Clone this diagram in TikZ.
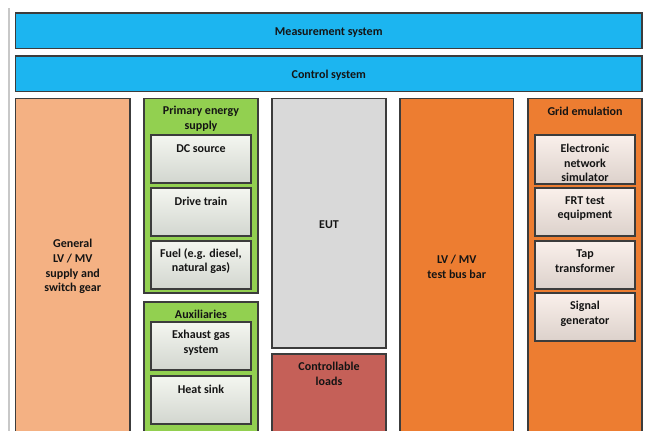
\documentclass[tikz,border=0pt]{standalone}
\usepackage{fontspec}
\setmainfont{Carlito}

\tikzset{every picture/.style={line width=0.75pt}}

\begin{document}
\begin{tikzpicture}[x=0.75pt,y=0.75pt,yscale=-1,xscale=1]
\useasboundingbox (0,0) rectangle (646,430);
\clip (0,0) rectangle (646,430);
\tikzset{
  box/.style={draw={rgb, 255:red, 60; green, 60; blue, 60 }, line width=1.2},
  inbox/.style={draw={rgb, 255:red, 60; green, 60; blue, 60 }, line width=1.1, top color={rgb, 255:red, 244; green, 246; blue, 240 }, bottom color={rgb, 255:red, 210; green, 214; blue, 207 }},
  inboxo/.style={draw={rgb, 255:red, 60; green, 60; blue, 60 }, line width=1.1, top color={rgb, 255:red, 250; green, 240; blue, 235 }, bottom color={rgb, 255:red, 220; green, 209; blue, 203 }},
  lbl/.style={inner sep=0.75pt, align=center, font=\fontsize{9}{11}\selectfont\bfseries, text={rgb, 255:red, 20; green, 20; blue, 20 }}
}

%Straight Lines (page edge)
\draw [color={rgb, 255:red, 200; green, 200; blue, 200 }, line width=0.9] (9,8) -- (9,432) ;

%Shape: Rectangle (measurement)
\draw [box, fill={rgb, 255:red, 28; green, 181; blue, 240 }] (15.5,13) -- (642,13) -- (642,48.5) -- (15.5,48.5) -- cycle ;
%Shape: Rectangle (control)
\draw [box, fill={rgb, 255:red, 28; green, 181; blue, 240 }] (15.5,56) -- (642,56) -- (642,91.5) -- (15.5,91.5) -- cycle ;

%Shape: Rectangle (general supply)
\draw [box, fill={rgb, 255:red, 244; green, 177; blue, 131 }] (15.5,98.5) -- (130,98.5) -- (130,440) -- (15.5,440) -- cycle ;

%Shape: Rectangle (primary energy)
\draw [box, fill={rgb, 255:red, 146; green, 208; blue, 80 }] (144,98.5) -- (258,98.5) -- (258,293) -- (144,293) -- cycle ;
\draw [inbox] (151,135) -- (251,135) -- (251,183) -- (151,183) -- cycle ;
\draw [inbox] (151,188) -- (251,188) -- (251,236) -- (151,236) -- cycle ;
\draw [inbox] (151,241) -- (251,241) -- (251,289) -- (151,289) -- cycle ;

%Shape: Rectangle (auxiliaries)
\draw [box, fill={rgb, 255:red, 146; green, 208; blue, 80 }] (144,302) -- (258,302) -- (258,440) -- (144,440) -- cycle ;
\draw [inbox] (151,322) -- (251,322) -- (251,370) -- (151,370) -- cycle ;
\draw [inbox] (151,376) -- (251,376) -- (251,424) -- (151,424) -- cycle ;

%Shape: Rectangle (EUT)
\draw [box, fill={rgb, 255:red, 217; green, 217; blue, 217 }] (272,98.5) -- (386,98.5) -- (386,348) -- (272,348) -- cycle ;
%Shape: Rectangle (loads)
\draw [box, fill={rgb, 255:red, 197; green, 96; blue, 88 }] (272,354) -- (386,354) -- (386,440) -- (272,440) -- cycle ;

%Shape: Rectangle (bus bar)
\draw [box, fill={rgb, 255:red, 237; green, 125; blue, 49 }] (400,98.5) -- (513.5,98.5) -- (513.5,440) -- (400,440) -- cycle ;

%Shape: Rectangle (grid emulation)
\draw [box, fill={rgb, 255:red, 237; green, 125; blue, 49 }] (528,98.5) -- (642,98.5) -- (642,440) -- (528,440) -- cycle ;
\draw [inboxo] (535,135) -- (635,135) -- (635,184) -- (535,184) -- cycle ;
\draw [inboxo] (535,188) -- (635,188) -- (635,236) -- (535,236) -- cycle ;
\draw [inboxo] (535,241) -- (635,241) -- (635,289) -- (535,289) -- cycle ;
\draw [inboxo] (535,293) -- (635,293) -- (635,341) -- (535,341) -- cycle ;

% Text Node
\draw (328.75,32.5) node [lbl] (meas) {Measurement system};
% Text Node
\draw (328.75,75) node [lbl] (ctrl) {Control system};
% Text Node
\draw (72.75,266.5) node [lbl] (gen) {General\\LV / MV\\supply and\\switch gear};
% Text Node
\draw (201,118.5) node [lbl] (prim) {Primary energy\\supply};
% Text Node
\draw (201,148.5) node [lbl] (dc) {DC source};
% Text Node
\draw (201,201) node [lbl] (drive) {Drive train};
% Text Node
\draw (201,261) node [lbl] (fuel) {Fuel (e.g. diesel,\\natural gas)};
% Text Node
\draw (201,314.5) node [lbl] (aux) {Auxiliaries};
% Text Node
\draw (201,343) node [lbl] (exh) {Exhaust gas\\system};
% Text Node
\draw (201,389) node [lbl] (heat) {Heat sink};
% Text Node
\draw (329,224.5) node [lbl] (eut) {EUT};
% Text Node
\draw (329,374) node [lbl] (loads) {Controllable\\loads};
% Text Node
\draw (456.75,266.5) node [lbl] (bus) {LV / MV\\test bus bar};
% Text Node
\draw (585,111.5) node [lbl] (grid) {Grid emulation};
% Text Node
\draw (585,163) node [lbl] (ens) {Electronic\\network\\simulator};
% Text Node
\draw (585,208.5) node [lbl] (frt) {FRT test\\equipment};
% Text Node
\draw (585,261) node [lbl] (tap) {Tap\\transformer};
% Text Node
\draw (585,313.5) node [lbl] (sig) {Signal\\generator};

\end{tikzpicture}
\end{document}
